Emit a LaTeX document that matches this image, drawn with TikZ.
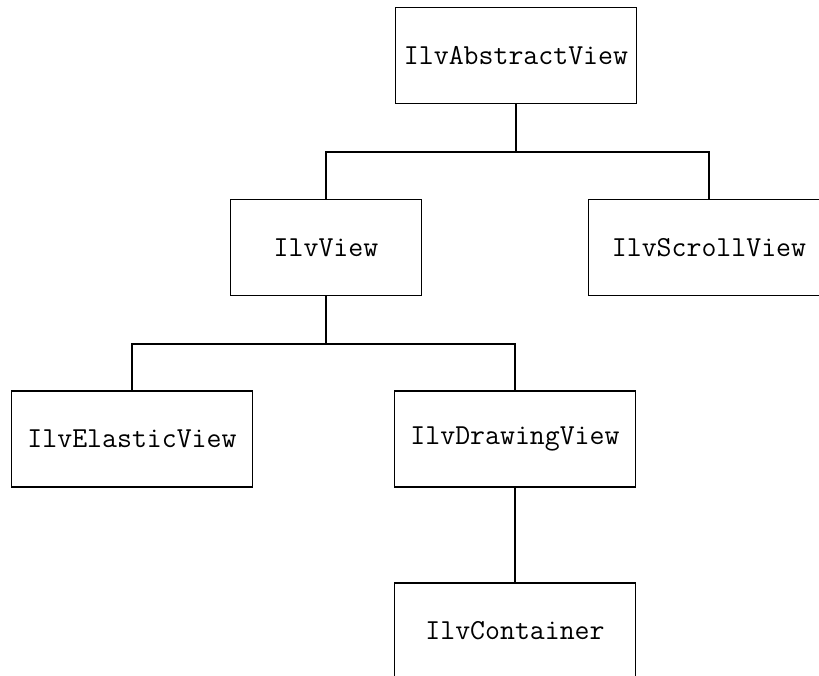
\documentclass[tikz,border=0pt]{standalone}
\usepackage{tikz}

\tikzset{
  classbox/.style={draw, line width=1.2pt, rectangle, minimum width=241pt,
    minimum height=96pt, inner sep=0pt, font=\fontsize{29}{32}\selectfont\ttfamily},
  link/.style={line width=1.2pt}
}

\begin{document}
\begin{tikzpicture}[x=1pt, y=-1pt]
  % Page frame (pixel coordinates, y downwards)
  \clip (0,0) rectangle (819,675);
  \fill[white] (0,0) rectangle (819,675);

  % Classes
  \node[classbox] (abstract) at (516,55.5) {IlvAbstractView};
  \node[classbox, minimum width=191pt] (view) at (326,247.5) {IlvView};
  \node[classbox] (scroll) at (709,247.5) {IlvScrollView};
  \node[classbox] (elastic) at (132,439) {IlvElasticView};
  \node[classbox] (drawing) at (515,439) {IlvDrawingView};
  \node[classbox] (container) at (515,631) {IlvContainer};

  % Junctions on the buses
  \coordinate (bus1) at (516,152);
  \coordinate (bus2) at (326,344);

  % Inheritance links
  \draw[link] (abstract.south) -- (bus1);
  \draw[link] (view.north) |- (bus1) -| (scroll.north);
  \draw[link] (view.south) -- (bus2);
  \draw[link] (elastic.north) |- (bus2) -| (drawing.north);
  \draw[link] (drawing.south) -- (container.north);
\end{tikzpicture}
\end{document}
